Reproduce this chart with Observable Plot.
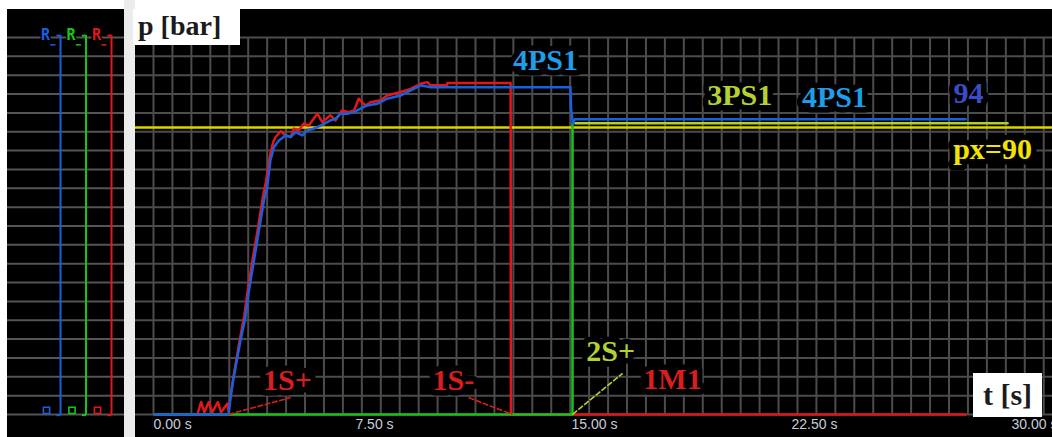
<!DOCTYPE html>
<html><head><meta charset="utf-8">
<script src="https://cdn.jsdelivr.net/npm/d3@7"></script>
<script src="https://cdn.jsdelivr.net/npm/@observablehq/plot@0.6"></script>
<style>
html,body{margin:0;padding:0;background:#fff;}
#wrap{position:relative;width:1052px;height:437px;overflow:hidden;background:#fff;}
#left{position:absolute;left:7px;top:9px;width:117px;height:428px;background:#000;}
#strip{position:absolute;left:124px;top:0;width:11px;height:437px;background:#ececec;}
#main{position:absolute;left:135px;top:9px;width:917px;height:428px;background:#000;}
.box{position:absolute;background:#fff;font-family:"Liberation Serif","DejaVu Serif",serif;font-weight:bold;color:#1b1b1b;white-space:nowrap;}
#pbar{left:133px;top:9px;width:107px;height:36px;font-size:28px;line-height:34px;padding-left:5px;box-sizing:border-box;}
#ts{left:973px;top:373px;width:69px;height:44px;font-size:30px;line-height:44px;text-align:center;}
svg{display:block;}
</style>
</head>
<body>
<div id="wrap">
  <div id="left"></div>
  <div id="strip"></div>
  <div id="main"></div>
  <div class="box" id="pbar">p [bar]</div>
  <div class="box" id="ts">t [s]</div>
</div>
<script>
// ---------- data ----------
const xTickValues = [0, 7.5, 15, 22.5, 30];
const xTickLabels = ["0.00 s", "7.50 s", "15.00 s", "22.50 s", "30.00 s"];
const pxLimit = 90;

// time [s], pressure [bar]
const red = [[0,0],[1.46,0],[1.59,3.9],[1.70,0.7],[1.85,3.9],[1.97,0.7],[2.16,3.9],[2.27,0.7],[2.48,3.4],[2.53,1.2],
  [2.57,4],[2.66,10],[2.88,22],[3.06,31],[3.18,39],[3.35,49],[3.52,58],[3.69,68],[3.80,73],[3.93,81],[4.05,85.5],
  [4.13,87.0],[4.30,88.8],[4.47,87.5],[4.64,87.0],[4.75,89.6],[4.92,89.1],[5.09,91.2],[5.26,90.6],[5.55,94.3],[5.72,91.7],
  [6.00,93.8],[6.17,92.2],[6.39,95.3],[6.62,94.8],[6.80,95.3],[6.96,99.0],[7.19,96.9],[7.36,97.9],[7.71,98.5],[7.93,100.0],
  [8.39,101.1],[8.73,102.1],[9.07,103.7],[9.30,104.2],[9.41,103.2],[9.97,103.2],[9.98,103.9],[12.14,103.9],[12.15,0],[27.65,0]];
const blue = [[0,0],[2.52,0],[2.59,5.4],[2.70,11.7],[2.93,23.2],[3.10,30.5],[3.22,38.9],[3.39,48.3],[3.56,57.7],[3.73,67.1],
  [3.84,71.3],[3.95,79.6],[4.07,83.8],[4.24,85.9],[4.47,87.5],[4.64,87.0],[4.81,88.5],[5.04,87.5],[5.21,89.1],[5.43,89.6],
  [5.66,90.6],[6.00,92.2],[6.17,92.7],[6.34,94.3],[6.57,94.3],[6.80,94.8],[7.02,95.9],[7.25,96.9],[7.59,97.4],[7.93,99.0],
  [8.39,100.0],[8.73,101.6],[9.07,103.2],[9.41,102.6],[14.18,102.6],[14.20,96],[14.26,91.2],[14.33,92.6],[27.65,92.6]];
const green = [[0,0],[14.25,0],[14.25,91.3]];
const ps3 = [[14.35,91.3],[29.08,91.3]];

const labelTexts = ["1S+","1S-","2S+","1M1","4PS1","3PS1","4PS1","94","px=90"];
const labelTimes = [4.53,10.19,15.55,17.66,13.33,19.95,23.18,27.75,28.57];
const labelPressures = [10.8,10.8,19.8,11.0,111.0,100.0,99.4,100.7,83.0];
const labelKinds = ["red","red","lime","red","cyan","lime","cyan","navy","yellow"];

const leaderFrom = [[2.52,0],[10.71,5.3],[14.25,0]];
const leaderTo = [[4.64,5.3],[12.2,0],[15.96,12.9]];
const leaderKinds = ["red","red","lime"];

const channels = ["blue","green","red"];

// ---------- styles ----------
const lineColor = {red:"#e3161b", blue:"#1a5fe0", green:"#16c516", ps3:"#b0cf2a"};
const textColor = {red:"#d81e1e", lime:"#b2d232", cyan:"#1e9de8", navy:"#3b4dc6", yellow:"#f0e400"};
const serif = "'Liberation Serif','DejaVu Serif',serif";

const P_TOP = 118.2;
const yScale = {domain:[0, P_TOP], range:[405, 28]};
const gridP = d3.range(21).map(k => k * P_TOP / 20);
const gridT = d3.range(48).map(k => -0.0341 + k * 0.6457);
const toRows = arr => arr.map(([t,p]) => ({t,p}));

const labels = labelTexts.map((text,i) => ({text, t:labelTimes[i], p:labelPressures[i], kind:labelKinds[i]}));
const leaders = leaderFrom.map((a,i) => ({t1:a[0], p1:a[1], t2:leaderTo[i][0], p2:leaderTo[i][1], kind:leaderKinds[i]}));
const ticks = xTickValues.map((v,i) => ({v, label:xTickLabels[i]}));

const main = Plot.plot({
  width: 917, height: 428, margin: 0,
  style: {background:"#000", overflow:"visible"},
  x: {domain:[0,30], range:[19,899], axis:null},
  y: {...yScale, axis:null},
  marks: [
    Plot.ruleY(gridP, {stroke:"#4c4c4c", strokeWidth:2}),
    Plot.ruleX(gridT, {y1:0, y2:P_TOP, stroke:"#4c4c4c", strokeWidth:2}),
    Plot.text(labels, {x:"t", y:"p", text:"text", fill:d => textColor[d.kind], stroke:"#000", strokeWidth:11,
      strokeLinejoin:"round", fontFamily:serif, fontWeight:"bold", fontSize:30}),
    Plot.ruleY([pxLimit], {stroke:"#dcd300", strokeWidth:2.5}),
    Plot.line(toRows(red), {x:"t", y:"p", stroke:lineColor.red, strokeWidth:2.5, curve:"linear"}),
    Plot.line(toRows(green), {x:"t", y:"p", stroke:lineColor.green, strokeWidth:2.5}),
    Plot.line(toRows(ps3), {x:"t", y:"p", stroke:lineColor.ps3, strokeWidth:2.5}),
    Plot.line(toRows(blue), {x:"t", y:"p", stroke:lineColor.blue, strokeWidth:2.5}),
    Plot.link(leaders, {x1:"t1", y1:"p1", x2:"t2", y2:"p2", stroke:d => textColor[d.kind], strokeWidth:1.6, strokeDasharray:"6,1.5"}),
    Plot.text(ticks.slice(0,1), {x:"v", frameAnchor:"bottom", dy:-9, text:"label", textAnchor:"start", dx:-1,
      fill:"#c6cedb", fontFamily:"'Liberation Sans',Arial,sans-serif", fontSize:14}),
    Plot.text(ticks.slice(1), {x:"v", frameAnchor:"bottom", dy:-9, text:"label",
      fill:"#c6cedb", fontFamily:"'Liberation Sans',Arial,sans-serif", fontSize:14})
  ]
});
document.getElementById("main").appendChild(main);

const chanIdx = channels.map((c,i) => ({c, i:i+1}));
const left = Plot.plot({
  width: 117, height: 428, margin: 0,
  style: {background:"#000", overflow:"visible"},
  x: {domain:[1,3], range:[53,104], axis:null},
  y: {...yScale, axis:null},
  marks: [
    Plot.ruleY(gridP, {stroke:"#555", strokeWidth:2}),
    Plot.ruleX(chanIdx, {x:"i", y1:-0.2, y2:P_TOP + 0.6, stroke:d => lineColor[d.c], strokeWidth:2}),
    Plot.link(chanIdx, {x1:d => d.i - 0.16, x2:"i", y1:P_TOP + 0.6, y2:P_TOP + 0.6, stroke:d => lineColor[d.c], strokeWidth:2}),
    Plot.link(chanIdx, {x1:d => d.i - 0.16, x2:"i", y1:-0.2, y2:-0.2, stroke:d => lineColor[d.c], strokeWidth:2}),
    Plot.text(chanIdx, {x:"i", y:P_TOP + 0.8, dx:-15, text:() => "R", fill:d => lineColor[d.c], stroke:"#000", strokeWidth:3,
      fontFamily:"'DejaVu Sans Mono',monospace", fontWeight:"bold", fontSize:15}),
    Plot.link(chanIdx, {x1:d => d.i - 0.4, x2:d => d.i - 0.2, y1:P_TOP - 2.3, y2:P_TOP - 2.3, stroke:d => lineColor[d.c], strokeWidth:1.5}),
    Plot.dot(chanIdx, {x:"i", y:1.3, dx:-14, symbol:"square", r:3.5, stroke:d => lineColor[d.c], fill:"#000", strokeWidth:1.6})
  ]
});
document.getElementById("left").appendChild(left);
</script>
</body></html>
